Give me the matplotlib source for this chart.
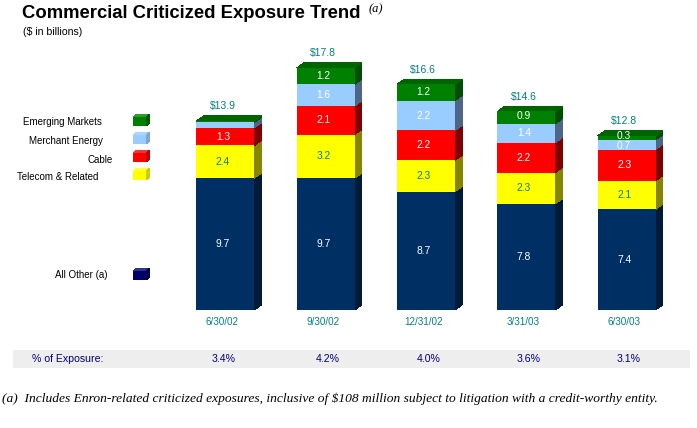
import matplotlib
matplotlib.use('Agg')
import matplotlib.pyplot as plt
from matplotlib.patches import Polygon, Rectangle

W, H = 697, 428

dates = ['6/30/02', '9/30/02', '12/31/02', '3/31/03', '6/30/03']
totals = ['$13.9', '$17.8', '$16.6', '$14.6', '$12.8']
pct_exposure = ['3.4%', '4.2%', '4.0%', '3.6%', '3.1%']

all_other = [9.7, 9.7, 8.7, 7.8, 7.4]
telecom = [2.4, 3.2, 2.3, 2.3, 2.1]
cable = [1.3, 2.1, 2.2, 2.2, 2.3]
merchant = [0.4, 1.6, 2.2, 1.4, 0.7]
emerging = [0.1, 1.2, 1.2, 0.9, 0.3]

series = [all_other, telecom, cable, merchant, emerging]
# front, side, label colour
colors = ['#003063', '#001a38', '#ffffff'], ['#ffff00', '#858500', '#008080'], \
         ['#ff0000', '#800000', '#ffffff'], ['#99ccff', '#4d6688', '#ffffff'], \
         ['#008000', '#004d00', '#ffffff']
top_color = '#006400'

legend_names = ['Emerging Markets', 'Merchant Energy', 'Cable', 'Telecom & Related', 'All Other (a)']
legend_front = ['#008000', '#99ccff', '#ff0000', '#ffff00', '#000066']
legend_side = ['#005a00', '#7fa6d0', '#c00000', '#cccc00', '#00004d']
legend_top = ['#339933', '#add6ff', '#ff3333', '#ffff33', '#333385']
legend_text_x = [23, 29, 87, 17, 55]
legend_text_y = [121.5, 140.7, 160, 176.7, 275]
legend_y = [114, 132, 150, 168, 268]
pct_x = [224, 328, 429, 529, 629]

fig = plt.figure(figsize=(W / 100, H / 100), dpi=100, facecolor='white')

# scale: 100.3 px between bars, 13.6 px per $bn, baseline at y=310
step = 100.3
unit = 13.6
ax = fig.add_axes([0, 0, 1, 1])
ax.set_xlim(-225.5 / step, (W - 225.5) / step)
ax.set_ylim(-(H - 310) / unit, 310 / unit)
ax.axis('off')

# page axes in pixels for text and legend
pg = fig.add_axes([0, 0, 1, 1])
pg.set_xlim(0, W)
pg.set_ylim(H, 0)
pg.axis('off')
pg.patch.set_alpha(0)

bar_w = 58 / step
dx = 7 / step
dy = 5 / unit

for i in range(len(dates)):
    base = 0
    left = i - bar_w / 2
    right = i + bar_w / 2
    for s, vals in enumerate(series):
        v = vals[i]
        front, side, lab = colors[s]
        ax.bar(i, v, bottom=base, width=bar_w, color=front, linewidth=0, antialiased=False, zorder=2)
        ax.add_patch(Polygon([(right, base), (right + dx, base + dy), (right + dx, base + v + dy), (right, base + v)],
                             closed=True, facecolor=side, edgecolor='none', antialiased=False, zorder=1))
        # the two thin slices of the first bar carry no label
        if i > 0 or v > 0.4:
            nudge = 2 / unit if s == 4 and v < 1 else (-1 / unit if v == 0.7 else 0)
            ax.text(i - 0.025, base + v / 2 + nudge, '%.1f' % v, color=lab, ha='center', va='center',
                    fontsize=7.4, family='Liberation Sans', zorder=3)
        base += v
    ax.add_patch(Polygon([(left, base), (left + dx, base + dy), (right + dx, base + dy), (right, base)],
                         closed=True, facecolor=top_color, edgecolor='none', antialiased=False, zorder=1))
    ax.text(i - 0.03, base + dy + 0.33, totals[i], color='#008080', ha='center', va='bottom',
            fontsize=7.5, family='Liberation Sans')
    ax.text(i - 0.03, -7 / unit, dates[i], color='#008080', ha='center', va='top',
            fontsize=7.1, family='Liberation Sans')

# title block
pg.text(22, 13, 'Commercial Criticized Exposure Trend', fontsize=13.3, fontweight='bold',
        family='Liberation Sans', va='center', ha='left', color='black')
pg.text(369, 9, '(a)', fontsize=9, style='italic', family='Liberation Serif', va='center', ha='left')
pg.text(23, 32, '($ in billions)', fontsize=7.6, family='Liberation Sans', va='center', ha='left')

# legend
for name, tx, ty, y, f, sd, tp in zip(legend_names, legend_text_x, legend_text_y, legend_y,
                                      legend_front, legend_side, legend_top):
    pg.text(tx, ty, name, fontsize=7.0, family='Liberation Sans', va='center', ha='left')
    pg.add_patch(Polygon([(133, y + 3), (137, y), (150, y), (146, y + 3)], facecolor=tp, edgecolor='none', antialiased=False))
    pg.add_patch(Polygon([(146, y + 3), (150, y), (150, y + 9), (146, y + 12)], facecolor=sd, edgecolor='none', antialiased=False))
    pg.add_patch(Rectangle((133, y + 3), 13, 9, facecolor=f, edgecolor='none', antialiased=False))

# % of exposure band
pg.add_patch(Rectangle((13, 350), 677, 18, facecolor='#eeeeee', edgecolor='none'))
pg.text(32, 359, '% of Exposure:', color='#000080', fontsize=7.6, family='Liberation Sans', va='center', ha='left')
for xc, p in zip(pct_x, pct_exposure):
    pg.text(xc, 359, p, color='#000080', fontsize=7.6, family='Liberation Sans', va='center', ha='center')

# footnote
pg.text(2, 399, '(a)  Includes Enron-related criticized exposures, inclusive of $108 million subject to litigation with a credit-worthy entity.',
        fontsize=9.7, style='italic', family='Liberation Serif', va='center', ha='left', color='black')

fig.savefig('out.png', dpi=100)
